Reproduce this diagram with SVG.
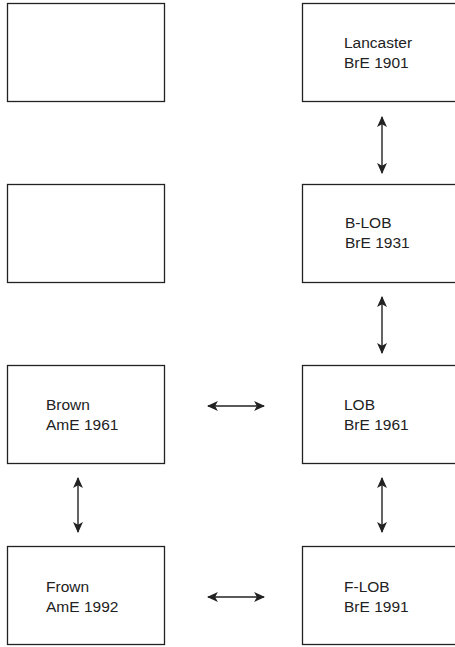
<svg xmlns="http://www.w3.org/2000/svg" width="455" height="647" viewBox="0 0 455 647">
<style>
.box{fill:#fff;stroke:#222;stroke-width:1.3}
.lbl{font-family:"Liberation Sans",Arial,sans-serif;font-size:15.5px;fill:#222}
.conn{stroke:#222;stroke-width:1.4;fill:none;marker-start:url(#ah);marker-end:url(#ah)}
</style>
<defs>
<marker id="ah" viewBox="0 0 10 10" refX="9" refY="5" markerWidth="11" markerHeight="11" markerUnits="userSpaceOnUse" orient="auto-start-reverse">
<path d="M0,0.5 L10,5 L0,9.5 L2.5,5 Z" fill="#222"/>
</marker>
</defs>
<rect width="455" height="647" fill="#fff"/>
<g id="empty1"><rect class="box" x="7.5" y="3.5" width="157" height="98"/></g>
<g id="lancaster"><rect class="box" x="302.5" y="3.5" width="160" height="98"/>
<text class="lbl" x="344" y="48">Lancaster</text><text class="lbl" x="344" y="68">BrE 1901</text></g>
<g id="empty2"><rect class="box" x="7.5" y="184.5" width="157" height="98"/></g>
<g id="blob"><rect class="box" x="302.5" y="184.5" width="160" height="98"/>
<text class="lbl" x="345" y="228">B-LOB</text><text class="lbl" x="345" y="248">BrE 1931</text></g>
<g id="brown"><rect class="box" x="7.5" y="365.5" width="157" height="98"/>
<text class="lbl" x="46" y="410">Brown</text><text class="lbl" x="46" y="430">AmE 1961</text></g>
<g id="lob"><rect class="box" x="302.5" y="365.5" width="160" height="98"/>
<text class="lbl" x="344" y="410">LOB</text><text class="lbl" x="344" y="430">BrE 1961</text></g>
<g id="frown"><rect class="box" x="7.5" y="546.5" width="157" height="98"/>
<text class="lbl" x="46" y="592">Frown</text><text class="lbl" x="46" y="612">AmE 1992</text></g>
<g id="flob"><rect class="box" x="302.5" y="546.5" width="160" height="98"/>
<text class="lbl" x="344" y="592">F-LOB</text><text class="lbl" x="344" y="612">BrE 1991</text></g>
<g id="connectors">
<line class="conn" x1="382" y1="117" x2="382" y2="173"/>
<line class="conn" x1="382" y1="297" x2="382" y2="353"/>
<line class="conn" x1="382" y1="478" x2="382" y2="532"/>
<line class="conn" x1="78" y1="478" x2="78" y2="532"/>
<line class="conn" x1="208" y1="406" x2="264" y2="406"/>
<line class="conn" x1="208" y1="597" x2="264" y2="597"/>
</g>
</svg>
